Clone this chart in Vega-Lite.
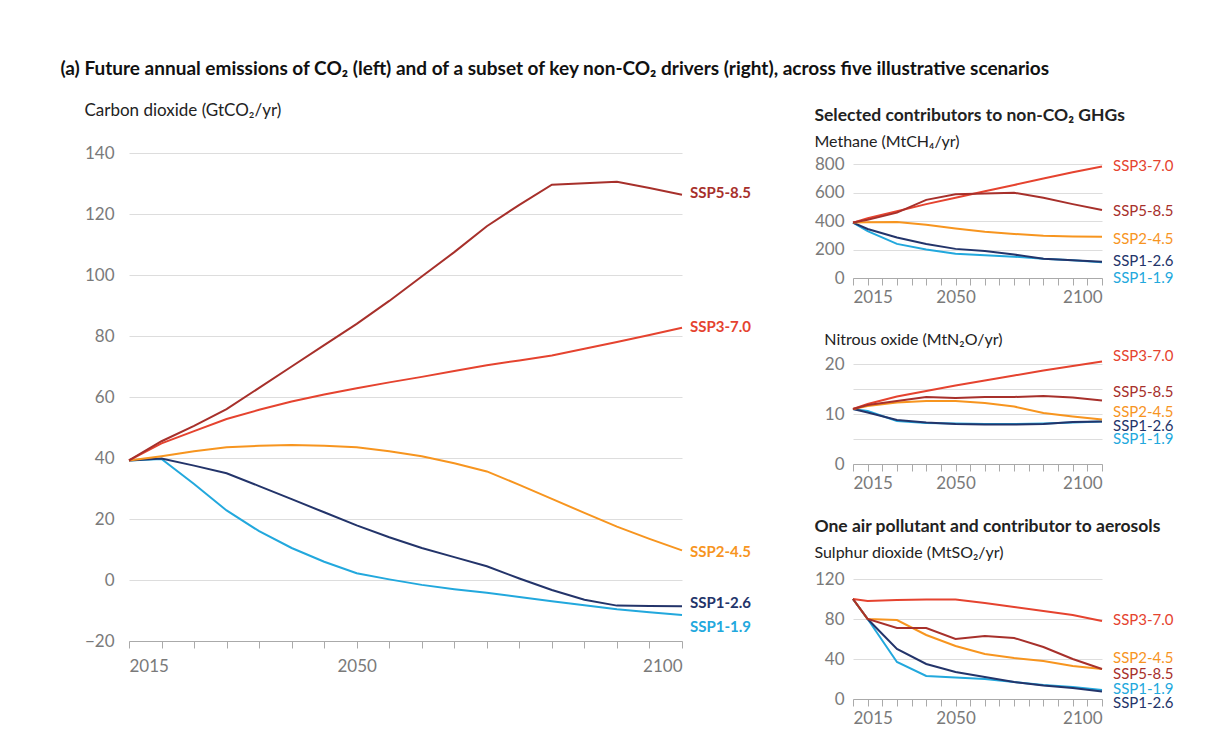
{
  "$schema": "https://vega.github.io/schema/vega-lite/v6.json",
  "padding": {"left": 60, "top": 60, "right": 5, "bottom": 5},
  "background": "white",
  "title": {"text": "(a) Future annual emissions of CO₂ (left) and of a subset of key non-CO₂ drivers (right), across five illustrative scenarios", "anchor": "start", "fontSize": 19, "fontWeight": "bold", "color": "#111111", "offset": 23, "dx": -24},
  "config": {
    "font": "Lato",
    "view": {"stroke": null},
    "axis": {"labelFont": "Lato", "labelColor": "#7a7a7a", "labelFontSize": 17, "gridColor": "#dddddd", "domainColor": "#aaaaaa", "tickColor": "#aaaaaa", "title": null},
    "axisY": {"domain": false, "ticks": false, "labelPadding": 15},
    "axisX": {"tickSize": 7, "labelPadding": 4, "grid": false},
    "title": {"font": "Lato", "color": "#222222", "fontSize": 17, "anchor": "start", "frame": "bounds"}
  },
  "datasets": {
    "co2": [
      {"scenario": "SSP1-1.9", "year": 2015, "value": 39.2}, {"scenario": "SSP1-1.9", "year": 2020, "value": 39.7}, {"scenario": "SSP1-1.9", "year": 2025, "value": 31.5}, {"scenario": "SSP1-1.9", "year": 2030, "value": 22.8}, {"scenario": "SSP1-1.9", "year": 2035, "value": 16.0}, {"scenario": "SSP1-1.9", "year": 2040, "value": 10.5}, {"scenario": "SSP1-1.9", "year": 2045, "value": 6.0}, {"scenario": "SSP1-1.9", "year": 2050, "value": 2.2}, {"scenario": "SSP1-1.9", "year": 2055, "value": 0.2}, {"scenario": "SSP1-1.9", "year": 2060, "value": -1.6}, {"scenario": "SSP1-1.9", "year": 2065, "value": -3.0}, {"scenario": "SSP1-1.9", "year": 2070, "value": -4.2}, {"scenario": "SSP1-1.9", "year": 2075, "value": -5.6}, {"scenario": "SSP1-1.9", "year": 2080, "value": -7.0}, {"scenario": "SSP1-1.9", "year": 2085, "value": -8.3}, {"scenario": "SSP1-1.9", "year": 2090, "value": -9.6}, {"scenario": "SSP1-1.9", "year": 2095, "value": -10.6}, {"scenario": "SSP1-1.9", "year": 2100, "value": -11.5},
      {"scenario": "SSP1-2.6", "year": 2015, "value": 39.2}, {"scenario": "SSP1-2.6", "year": 2020, "value": 39.8}, {"scenario": "SSP1-2.6", "year": 2025, "value": 37.5}, {"scenario": "SSP1-2.6", "year": 2030, "value": 35.0}, {"scenario": "SSP1-2.6", "year": 2035, "value": 30.8}, {"scenario": "SSP1-2.6", "year": 2040, "value": 26.5}, {"scenario": "SSP1-2.6", "year": 2045, "value": 22.2}, {"scenario": "SSP1-2.6", "year": 2050, "value": 17.9}, {"scenario": "SSP1-2.6", "year": 2055, "value": 14.0}, {"scenario": "SSP1-2.6", "year": 2060, "value": 10.5}, {"scenario": "SSP1-2.6", "year": 2065, "value": 7.5}, {"scenario": "SSP1-2.6", "year": 2070, "value": 4.5}, {"scenario": "SSP1-2.6", "year": 2075, "value": 0.5}, {"scenario": "SSP1-2.6", "year": 2080, "value": -3.3}, {"scenario": "SSP1-2.6", "year": 2085, "value": -6.5}, {"scenario": "SSP1-2.6", "year": 2090, "value": -8.4}, {"scenario": "SSP1-2.6", "year": 2095, "value": -8.5}, {"scenario": "SSP1-2.6", "year": 2100, "value": -8.6},
      {"scenario": "SSP2-4.5", "year": 2015, "value": 39.2}, {"scenario": "SSP2-4.5", "year": 2020, "value": 40.6}, {"scenario": "SSP2-4.5", "year": 2025, "value": 42.2}, {"scenario": "SSP2-4.5", "year": 2030, "value": 43.5}, {"scenario": "SSP2-4.5", "year": 2035, "value": 44.0}, {"scenario": "SSP2-4.5", "year": 2040, "value": 44.3}, {"scenario": "SSP2-4.5", "year": 2045, "value": 44.0}, {"scenario": "SSP2-4.5", "year": 2050, "value": 43.5}, {"scenario": "SSP2-4.5", "year": 2055, "value": 42.2}, {"scenario": "SSP2-4.5", "year": 2060, "value": 40.6}, {"scenario": "SSP2-4.5", "year": 2065, "value": 38.3}, {"scenario": "SSP2-4.5", "year": 2070, "value": 35.6}, {"scenario": "SSP2-4.5", "year": 2075, "value": 31.2}, {"scenario": "SSP2-4.5", "year": 2080, "value": 26.6}, {"scenario": "SSP2-4.5", "year": 2085, "value": 22.0}, {"scenario": "SSP2-4.5", "year": 2090, "value": 17.5}, {"scenario": "SSP2-4.5", "year": 2095, "value": 13.5}, {"scenario": "SSP2-4.5", "year": 2100, "value": 9.7},
      {"scenario": "SSP3-7.0", "year": 2015, "value": 39.2}, {"scenario": "SSP3-7.0", "year": 2020, "value": 44.8}, {"scenario": "SSP3-7.0", "year": 2025, "value": 48.8}, {"scenario": "SSP3-7.0", "year": 2030, "value": 52.8}, {"scenario": "SSP3-7.0", "year": 2035, "value": 55.8}, {"scenario": "SSP3-7.0", "year": 2040, "value": 58.5}, {"scenario": "SSP3-7.0", "year": 2045, "value": 60.8}, {"scenario": "SSP3-7.0", "year": 2050, "value": 62.9}, {"scenario": "SSP3-7.0", "year": 2055, "value": 64.8}, {"scenario": "SSP3-7.0", "year": 2060, "value": 66.6}, {"scenario": "SSP3-7.0", "year": 2065, "value": 68.5}, {"scenario": "SSP3-7.0", "year": 2070, "value": 70.4}, {"scenario": "SSP3-7.0", "year": 2075, "value": 72.0}, {"scenario": "SSP3-7.0", "year": 2080, "value": 73.6}, {"scenario": "SSP3-7.0", "year": 2085, "value": 75.8}, {"scenario": "SSP3-7.0", "year": 2090, "value": 78.0}, {"scenario": "SSP3-7.0", "year": 2095, "value": 80.3}, {"scenario": "SSP3-7.0", "year": 2100, "value": 82.7},
      {"scenario": "SSP5-8.5", "year": 2015, "value": 39.2}, {"scenario": "SSP5-8.5", "year": 2020, "value": 45.5}, {"scenario": "SSP5-8.5", "year": 2025, "value": 50.5}, {"scenario": "SSP5-8.5", "year": 2030, "value": 56.0}, {"scenario": "SSP5-8.5", "year": 2035, "value": 63.0}, {"scenario": "SSP5-8.5", "year": 2040, "value": 70.0}, {"scenario": "SSP5-8.5", "year": 2045, "value": 77.0}, {"scenario": "SSP5-8.5", "year": 2050, "value": 84.0}, {"scenario": "SSP5-8.5", "year": 2055, "value": 91.5}, {"scenario": "SSP5-8.5", "year": 2060, "value": 99.5}, {"scenario": "SSP5-8.5", "year": 2065, "value": 107.5}, {"scenario": "SSP5-8.5", "year": 2070, "value": 116.0}, {"scenario": "SSP5-8.5", "year": 2075, "value": 123.0}, {"scenario": "SSP5-8.5", "year": 2080, "value": 129.6}, {"scenario": "SSP5-8.5", "year": 2085, "value": 130.1}, {"scenario": "SSP5-8.5", "year": 2090, "value": 130.6}, {"scenario": "SSP5-8.5", "year": 2095, "value": 128.5}, {"scenario": "SSP5-8.5", "year": 2100, "value": 126.3}
    ],
    "co2_labels": [
      {"scenario": "SSP5-8.5", "year": 2100, "value": 127}, {"scenario": "SSP3-7.0", "year": 2100, "value": 83}, {"scenario": "SSP2-4.5", "year": 2100, "value": 9.3}, {"scenario": "SSP1-2.6", "year": 2100, "value": -7.5}, {"scenario": "SSP1-1.9", "year": 2100, "value": -15.3}
    ],
    "ch4": [
      {"scenario": "SSP1-1.9", "year": 2015, "value": 390}, {"scenario": "SSP1-1.9", "year": 2020, "value": 330}, {"scenario": "SSP1-1.9", "year": 2030, "value": 240}, {"scenario": "SSP1-1.9", "year": 2040, "value": 200}, {"scenario": "SSP1-1.9", "year": 2050, "value": 170}, {"scenario": "SSP1-1.9", "year": 2060, "value": 160}, {"scenario": "SSP1-1.9", "year": 2070, "value": 150}, {"scenario": "SSP1-1.9", "year": 2080, "value": 135}, {"scenario": "SSP1-1.9", "year": 2090, "value": 125}, {"scenario": "SSP1-1.9", "year": 2100, "value": 110},
      {"scenario": "SSP1-2.6", "year": 2015, "value": 390}, {"scenario": "SSP1-2.6", "year": 2020, "value": 345}, {"scenario": "SSP1-2.6", "year": 2030, "value": 285}, {"scenario": "SSP1-2.6", "year": 2040, "value": 240}, {"scenario": "SSP1-2.6", "year": 2050, "value": 205}, {"scenario": "SSP1-2.6", "year": 2060, "value": 190}, {"scenario": "SSP1-2.6", "year": 2070, "value": 165}, {"scenario": "SSP1-2.6", "year": 2080, "value": 135}, {"scenario": "SSP1-2.6", "year": 2090, "value": 125}, {"scenario": "SSP1-2.6", "year": 2100, "value": 115},
      {"scenario": "SSP2-4.5", "year": 2015, "value": 390}, {"scenario": "SSP2-4.5", "year": 2020, "value": 393}, {"scenario": "SSP2-4.5", "year": 2030, "value": 395}, {"scenario": "SSP2-4.5", "year": 2040, "value": 375}, {"scenario": "SSP2-4.5", "year": 2050, "value": 348}, {"scenario": "SSP2-4.5", "year": 2060, "value": 325}, {"scenario": "SSP2-4.5", "year": 2070, "value": 310}, {"scenario": "SSP2-4.5", "year": 2080, "value": 298}, {"scenario": "SSP2-4.5", "year": 2090, "value": 293}, {"scenario": "SSP2-4.5", "year": 2100, "value": 290},
      {"scenario": "SSP3-7.0", "year": 2015, "value": 390}, {"scenario": "SSP3-7.0", "year": 2020, "value": 420}, {"scenario": "SSP3-7.0", "year": 2030, "value": 470}, {"scenario": "SSP3-7.0", "year": 2040, "value": 520}, {"scenario": "SSP3-7.0", "year": 2050, "value": 565}, {"scenario": "SSP3-7.0", "year": 2060, "value": 610}, {"scenario": "SSP3-7.0", "year": 2070, "value": 655}, {"scenario": "SSP3-7.0", "year": 2080, "value": 700}, {"scenario": "SSP3-7.0", "year": 2090, "value": 745}, {"scenario": "SSP3-7.0", "year": 2100, "value": 785},
      {"scenario": "SSP5-8.5", "year": 2015, "value": 390}, {"scenario": "SSP5-8.5", "year": 2020, "value": 410}, {"scenario": "SSP5-8.5", "year": 2030, "value": 460}, {"scenario": "SSP5-8.5", "year": 2040, "value": 550}, {"scenario": "SSP5-8.5", "year": 2050, "value": 590}, {"scenario": "SSP5-8.5", "year": 2060, "value": 595}, {"scenario": "SSP5-8.5", "year": 2070, "value": 600}, {"scenario": "SSP5-8.5", "year": 2080, "value": 565}, {"scenario": "SSP5-8.5", "year": 2090, "value": 520}, {"scenario": "SSP5-8.5", "year": 2100, "value": 478}
    ],
    "ch4_labels": [
      {"scenario": "SSP3-7.0", "year": 2100, "value": 785}, {"scenario": "SSP5-8.5", "year": 2100, "value": 474}, {"scenario": "SSP2-4.5", "year": 2100, "value": 276}, {"scenario": "SSP1-2.6", "year": 2100, "value": 120}, {"scenario": "SSP1-1.9", "year": 2100, "value": -2}
    ],
    "n2o": [
      {"scenario": "SSP1-1.9", "year": 2015, "value": 11.0}, {"scenario": "SSP1-1.9", "year": 2020, "value": 10.6}, {"scenario": "SSP1-1.9", "year": 2030, "value": 8.6}, {"scenario": "SSP1-1.9", "year": 2040, "value": 8.2}, {"scenario": "SSP1-1.9", "year": 2050, "value": 8.1}, {"scenario": "SSP1-1.9", "year": 2060, "value": 8.0}, {"scenario": "SSP1-1.9", "year": 2070, "value": 8.0}, {"scenario": "SSP1-1.9", "year": 2080, "value": 8.1}, {"scenario": "SSP1-1.9", "year": 2090, "value": 8.3}, {"scenario": "SSP1-1.9", "year": 2100, "value": 8.5},
      {"scenario": "SSP1-2.6", "year": 2015, "value": 11.0}, {"scenario": "SSP1-2.6", "year": 2020, "value": 10.3}, {"scenario": "SSP1-2.6", "year": 2030, "value": 8.8}, {"scenario": "SSP1-2.6", "year": 2040, "value": 8.3}, {"scenario": "SSP1-2.6", "year": 2050, "value": 8.0}, {"scenario": "SSP1-2.6", "year": 2060, "value": 7.9}, {"scenario": "SSP1-2.6", "year": 2070, "value": 7.9}, {"scenario": "SSP1-2.6", "year": 2080, "value": 8.0}, {"scenario": "SSP1-2.6", "year": 2090, "value": 8.4}, {"scenario": "SSP1-2.6", "year": 2100, "value": 8.5},
      {"scenario": "SSP2-4.5", "year": 2015, "value": 11.0}, {"scenario": "SSP2-4.5", "year": 2020, "value": 11.6}, {"scenario": "SSP2-4.5", "year": 2030, "value": 12.3}, {"scenario": "SSP2-4.5", "year": 2040, "value": 12.6}, {"scenario": "SSP2-4.5", "year": 2050, "value": 12.6}, {"scenario": "SSP2-4.5", "year": 2060, "value": 12.2}, {"scenario": "SSP2-4.5", "year": 2070, "value": 11.5}, {"scenario": "SSP2-4.5", "year": 2080, "value": 10.2}, {"scenario": "SSP2-4.5", "year": 2090, "value": 9.5}, {"scenario": "SSP2-4.5", "year": 2100, "value": 8.9},
      {"scenario": "SSP3-7.0", "year": 2015, "value": 11.0}, {"scenario": "SSP3-7.0", "year": 2020, "value": 12.0}, {"scenario": "SSP3-7.0", "year": 2030, "value": 13.5}, {"scenario": "SSP3-7.0", "year": 2040, "value": 14.6}, {"scenario": "SSP3-7.0", "year": 2050, "value": 15.7}, {"scenario": "SSP3-7.0", "year": 2060, "value": 16.7}, {"scenario": "SSP3-7.0", "year": 2070, "value": 17.7}, {"scenario": "SSP3-7.0", "year": 2080, "value": 18.7}, {"scenario": "SSP3-7.0", "year": 2090, "value": 19.6}, {"scenario": "SSP3-7.0", "year": 2100, "value": 20.5},
      {"scenario": "SSP5-8.5", "year": 2015, "value": 11.0}, {"scenario": "SSP5-8.5", "year": 2020, "value": 11.8}, {"scenario": "SSP5-8.5", "year": 2030, "value": 12.6}, {"scenario": "SSP5-8.5", "year": 2040, "value": 13.4}, {"scenario": "SSP5-8.5", "year": 2050, "value": 13.2}, {"scenario": "SSP5-8.5", "year": 2060, "value": 13.4}, {"scenario": "SSP5-8.5", "year": 2070, "value": 13.4}, {"scenario": "SSP5-8.5", "year": 2080, "value": 13.6}, {"scenario": "SSP5-8.5", "year": 2090, "value": 13.3}, {"scenario": "SSP5-8.5", "year": 2100, "value": 12.7}
    ],
    "n2o_labels": [
      {"scenario": "SSP3-7.0", "year": 2100, "value": 21.6}, {"scenario": "SSP5-8.5", "year": 2100, "value": 14.4}, {"scenario": "SSP2-4.5", "year": 2100, "value": 10.4}, {"scenario": "SSP1-2.6", "year": 2100, "value": 7.6}, {"scenario": "SSP1-1.9", "year": 2100, "value": 5.0}
    ],
    "so2": [
      {"scenario": "SSP1-1.9", "year": 2015, "value": 100}, {"scenario": "SSP1-1.9", "year": 2020, "value": 80}, {"scenario": "SSP1-1.9", "year": 2030, "value": 37}, {"scenario": "SSP1-1.9", "year": 2040, "value": 23}, {"scenario": "SSP1-1.9", "year": 2050, "value": 21.5}, {"scenario": "SSP1-1.9", "year": 2060, "value": 20}, {"scenario": "SSP1-1.9", "year": 2070, "value": 17}, {"scenario": "SSP1-1.9", "year": 2080, "value": 14}, {"scenario": "SSP1-1.9", "year": 2090, "value": 12}, {"scenario": "SSP1-1.9", "year": 2100, "value": 9},
      {"scenario": "SSP1-2.6", "year": 2015, "value": 100}, {"scenario": "SSP1-2.6", "year": 2020, "value": 80}, {"scenario": "SSP1-2.6", "year": 2030, "value": 50}, {"scenario": "SSP1-2.6", "year": 2040, "value": 35}, {"scenario": "SSP1-2.6", "year": 2050, "value": 27}, {"scenario": "SSP1-2.6", "year": 2060, "value": 22}, {"scenario": "SSP1-2.6", "year": 2070, "value": 17}, {"scenario": "SSP1-2.6", "year": 2080, "value": 13.5}, {"scenario": "SSP1-2.6", "year": 2090, "value": 11}, {"scenario": "SSP1-2.6", "year": 2100, "value": 7.5},
      {"scenario": "SSP2-4.5", "year": 2015, "value": 100}, {"scenario": "SSP2-4.5", "year": 2020, "value": 80}, {"scenario": "SSP2-4.5", "year": 2030, "value": 79}, {"scenario": "SSP2-4.5", "year": 2040, "value": 64}, {"scenario": "SSP2-4.5", "year": 2050, "value": 53}, {"scenario": "SSP2-4.5", "year": 2060, "value": 45}, {"scenario": "SSP2-4.5", "year": 2070, "value": 41}, {"scenario": "SSP2-4.5", "year": 2080, "value": 38}, {"scenario": "SSP2-4.5", "year": 2090, "value": 33}, {"scenario": "SSP2-4.5", "year": 2100, "value": 30},
      {"scenario": "SSP3-7.0", "year": 2015, "value": 100}, {"scenario": "SSP3-7.0", "year": 2020, "value": 98}, {"scenario": "SSP3-7.0", "year": 2030, "value": 99}, {"scenario": "SSP3-7.0", "year": 2040, "value": 99.5}, {"scenario": "SSP3-7.0", "year": 2050, "value": 99.5}, {"scenario": "SSP3-7.0", "year": 2060, "value": 96}, {"scenario": "SSP3-7.0", "year": 2070, "value": 92}, {"scenario": "SSP3-7.0", "year": 2080, "value": 88}, {"scenario": "SSP3-7.0", "year": 2090, "value": 84}, {"scenario": "SSP3-7.0", "year": 2100, "value": 78},
      {"scenario": "SSP5-8.5", "year": 2015, "value": 100}, {"scenario": "SSP5-8.5", "year": 2020, "value": 80}, {"scenario": "SSP5-8.5", "year": 2030, "value": 71}, {"scenario": "SSP5-8.5", "year": 2040, "value": 71}, {"scenario": "SSP5-8.5", "year": 2050, "value": 60}, {"scenario": "SSP5-8.5", "year": 2060, "value": 63}, {"scenario": "SSP5-8.5", "year": 2070, "value": 61}, {"scenario": "SSP5-8.5", "year": 2080, "value": 52}, {"scenario": "SSP5-8.5", "year": 2090, "value": 40}, {"scenario": "SSP5-8.5", "year": 2100, "value": 30}
    ],
    "so2_labels": [
      {"scenario": "SSP3-7.0", "year": 2100, "value": 79}, {"scenario": "SSP2-4.5", "year": 2100, "value": 41}, {"scenario": "SSP5-8.5", "year": 2100, "value": 25}, {"scenario": "SSP1-1.9", "year": 2100, "value": 10}, {"scenario": "SSP1-2.6", "year": 2100, "value": -4}
    ]
  },
  "hconcat": [
    {
      "width": 553, "height": 488,
      "title": {"text": "Carbon dioxide (GtCO₂/yr)", "fontWeight": "normal", "fontSize": 17, "offset": 24},
      "encoding": {
        "x": {"field": "year", "type": "quantitative", "scale": {"domain": [2015, 2100], "nice": false, "zero": false}, "axis": {"values": [2015, 2020, 2025, 2030, 2035, 2040, 2045, 2050, 2055, 2060, 2065, 2070, 2075, 2080, 2085, 2090, 2095, 2100], "format": "d", "labelPadding": 10, "labelExpr": "datum.value == 2015 || datum.value == 2050 || datum.value == 2100 ? datum.label : ''"}},
        "y": {"field": "value", "type": "quantitative", "scale": {"domain": [-20, 140], "nice": false}, "axis": {"values": [-20, 0, 20, 40, 60, 80, 100, 120, 140], "labelPadding": 15}}
      },
      "layer": [
        {"data": {"values": [{}]}, "mark": {"type": "rect", "color": "#f4f4f4"}, "encoding": {"x": {"datum": 2015}, "x2": {"datum": 2100}, "y": {"datum": 0}, "y2": {"datum": -20}}},
        {"data": {"values": [{}]}, "mark": {"type": "rule", "color": "#999999", "strokeWidth": 1}, "encoding": {"x": {"datum": 2015}, "x2": {"datum": 2100}, "y": {"datum": 0}}},
        {"data": {"name": "co2"}, "mark": {"type": "line", "strokeWidth": 2}, "encoding": {"color": {"field": "scenario", "type": "nominal", "scale": {"domain": ["SSP1-1.9", "SSP1-2.6", "SSP2-4.5", "SSP3-7.0", "SSP5-8.5"], "range": ["#22a8dd", "#23346a", "#f7951f", "#e5432f", "#a7302b"]}, "legend": null}}},
        {"data": {"name": "co2_labels"}, "mark": {"type": "text", "align": "left", "baseline": "middle", "dx": 8, "fontSize": 15, "fontWeight": "bold"}, "encoding": {"text": {"field": "scenario"}, "color": {"field": "scenario", "type": "nominal", "legend": null}}}
      ]
    },
    {
      "vconcat": [
        {
          "width": 249, "height": 125,
          "title": {"text": "Selected contributors to non-CO₂ GHGs", "subtitle": "Methane (MtCH₄/yr)", "fontWeight": "bold", "fontSize": 17.5, "subtitleFont": "Lato", "subtitleFontSize": 16, "subtitleColor": "#222222", "subtitlePadding": 10, "offset": 3},
          "encoding": {
            "x": {"field": "year", "type": "quantitative", "scale": {"domain": [2015, 2100], "nice": false, "zero": false}, "axis": {"values": [2015, 2020, 2025, 2030, 2035, 2040, 2045, 2050, 2055, 2060, 2065, 2070, 2075, 2080, 2085, 2090, 2095, 2100], "format": "d", "labelExpr": "datum.value == 2015 || datum.value == 2050 || datum.value == 2100 ? datum.label : ''"}},
            "y": {"field": "value", "type": "quantitative", "scale": {"domain": [0, 880], "nice": false}, "axis": {"values": [0, 200, 400, 600, 800], "labelPadding": 9}}
          },
          "layer": [
            {"data": {"name": "ch4"}, "mark": {"type": "line", "strokeWidth": 2}, "encoding": {"color": {"field": "scenario", "type": "nominal", "scale": {"domain": ["SSP1-1.9", "SSP1-2.6", "SSP2-4.5", "SSP3-7.0", "SSP5-8.5"], "range": ["#22a8dd", "#23346a", "#f7951f", "#e5432f", "#a7302b"]}, "legend": null}}},
            {"data": {"name": "ch4_labels"}, "mark": {"type": "text", "align": "left", "baseline": "middle", "dx": 11, "fontSize": 15}, "encoding": {"text": {"field": "scenario"}, "color": {"field": "scenario", "type": "nominal", "legend": null}}}
          ]
        },
        {
          "width": 249, "height": 100,
          "title": {"text": "Nitrous oxide (MtN₂O/yr)", "fontWeight": "normal", "fontSize": 16, "offset": 1},
          "encoding": {
            "x": {"field": "year", "type": "quantitative", "scale": {"domain": [2015, 2100], "nice": false, "zero": false}, "axis": {"values": [2015, 2020, 2025, 2030, 2035, 2040, 2045, 2050, 2055, 2060, 2065, 2070, 2075, 2080, 2085, 2090, 2095, 2100], "format": "d", "labelExpr": "datum.value == 2015 || datum.value == 2050 || datum.value == 2100 ? datum.label : ''"}},
            "y": {"field": "value", "type": "quantitative", "scale": {"domain": [0, 20], "nice": false}, "axis": {"values": [0, 5, 10, 15, 20], "labelExpr": "datum.value % 10 == 0 ? datum.label : ''", "labelPadding": 9}}
          },
          "layer": [
            {"data": {"name": "n2o"}, "mark": {"type": "line", "strokeWidth": 2, "clip": false}, "encoding": {"color": {"field": "scenario", "type": "nominal", "scale": {"domain": ["SSP1-1.9", "SSP1-2.6", "SSP2-4.5", "SSP3-7.0", "SSP5-8.5"], "range": ["#22a8dd", "#23346a", "#f7951f", "#e5432f", "#a7302b"]}, "legend": null}}},
            {"data": {"name": "n2o_labels"}, "mark": {"type": "text", "align": "left", "baseline": "middle", "dx": 11, "fontSize": 15}, "encoding": {"text": {"field": "scenario"}, "color": {"field": "scenario", "type": "nominal", "legend": null}}}
          ]
        },
        {
          "width": 249, "height": 120,
          "title": {"text": "One air pollutant and contributor to aerosols", "subtitle": "Sulphur dioxide (MtSO₂/yr)", "fontWeight": "bold", "fontSize": 17.5, "subtitleFont": "Lato", "subtitleFontSize": 16, "subtitleColor": "#222222", "subtitlePadding": 10, "offset": 9},
          "encoding": {
            "x": {"field": "year", "type": "quantitative", "scale": {"domain": [2015, 2100], "nice": false, "zero": false}, "axis": {"values": [2015, 2020, 2025, 2030, 2035, 2040, 2045, 2050, 2055, 2060, 2065, 2070, 2075, 2080, 2085, 2090, 2095, 2100], "format": "d", "labelExpr": "datum.value == 2015 || datum.value == 2050 || datum.value == 2100 ? datum.label : ''"}},
            "y": {"field": "value", "type": "quantitative", "scale": {"domain": [0, 120], "nice": false}, "axis": {"values": [0, 40, 80, 120], "labelPadding": 9}}
          },
          "layer": [
            {"data": {"name": "so2"}, "mark": {"type": "line", "strokeWidth": 2}, "encoding": {"color": {"field": "scenario", "type": "nominal", "scale": {"domain": ["SSP1-1.9", "SSP1-2.6", "SSP2-4.5", "SSP3-7.0", "SSP5-8.5"], "range": ["#22a8dd", "#23346a", "#f7951f", "#e5432f", "#a7302b"]}, "legend": null}}},
            {"data": {"name": "so2_labels"}, "mark": {"type": "text", "align": "left", "baseline": "middle", "dx": 11, "fontSize": 15}, "encoding": {"text": {"field": "scenario"}, "color": {"field": "scenario", "type": "nominal", "legend": null}}}
          ]
        }
      ],
      "spacing": 26
    }
  ],
  "spacing": 63
}
